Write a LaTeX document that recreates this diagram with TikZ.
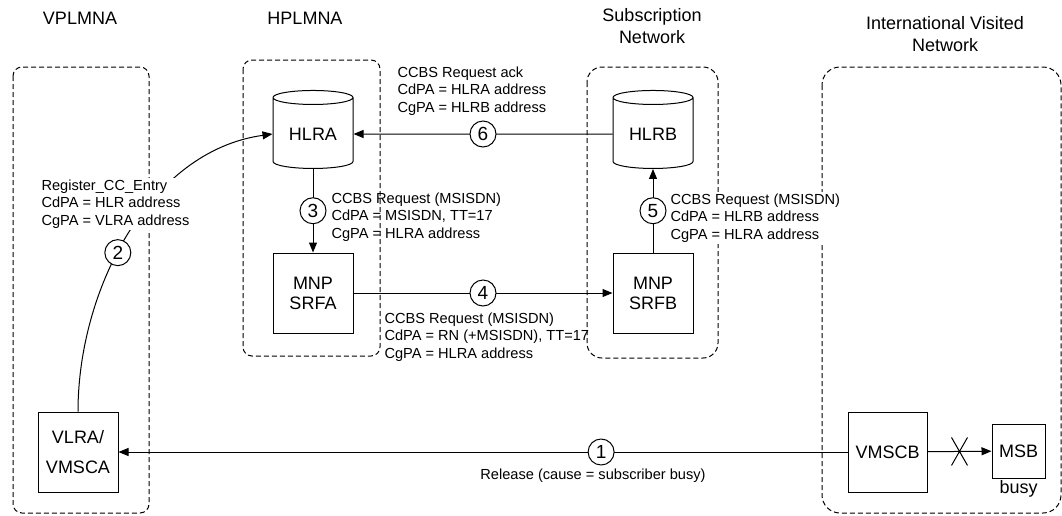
\documentclass[tikz,border=0pt]{standalone}
\usepackage{fontspec}
\setmainfont{Liberation Sans}
\usetikzlibrary{arrows.meta,positioning,shapes.geometric,shapes.misc}
\newcommand{\msgfont}{\fontsize{14.6}{17.5}\selectfont}
\newcommand{\nefont}{\fontsize{18}{20}\selectfont}

\begin{document}
\begin{tikzpicture}[x=1pt,y=-1pt,line width=1pt,>={Triangle[length=10pt,width=8pt]},
  net/.style={draw,dash pattern=on 5pt off 3pt,rounded corners=#1},
  ne/.style={draw,minimum width=80pt,minimum height=80pt,align=center,font=\nefont,inner sep=1pt},
  db/.style={draw,cylinder,shape border rotate=90,aspect=0.28,minimum width=80pt,minimum height=78pt,font=\nefont,inner sep=1pt},
  num/.style={draw,circle,fill=white,minimum size=26pt,inner sep=0pt,font=\fontsize{19}{19}\selectfont},
  msg/.style={align=left,font=\msgfont,inner sep=2pt},
  ttl/.style={align=center,font=\fontsize{18}{22}\selectfont},
  xmark/.style={draw,cross out,minimum width=15pt,minimum height=27pt,inner sep=0pt}]
  \useasboundingbox (0,0) rectangle (1062,515);
  \node[ttl] (vpl) at (80,18) {VPLMNA};
  \node[ttl] (hpl) at (305,18) {HPLMNA};
  \node[ttl] (sub) at (652,26) {Subscription\\Network};
  \node[ttl] (ivn) at (945,34) {International Visited\\Network};
  \draw[net=9pt] (13,67) rectangle (149,513);
  \draw[net=9pt] (243,60) rectangle (380,356);
  \draw[net=15pt] (587,67) rectangle (718,358);
  \draw[net=18pt] (822,67) rectangle (1061,513);

  \node[db] (hlra) at (313,134) {HLRA};
  \node[db] (hlrb) at (653,134) {HLRB};
  \node[ne] (srfa) at (313,293) {MNP\\SRFA};
  \node[ne] (srfb) at (653,293) {MNP\\SRFB};
  \node[ne] (vlra) at (78,452) {VLRA/\\[10pt]VMSCA};
  \node[ne,minimum width=79pt] (vmscb) at (887.5,452) {VMSCB};
  \node[ne,minimum width=53pt,minimum height=54pt] (msb) at (1018.5,451) {MSB};
  \node[font=\nefont,inner sep=0pt,below=1pt of msb] (busy) {busy};

  \draw[->] (hlrb) -- node[num] {6} (hlra);
  \draw[->] (hlra) -- node[num] {3} (srfa);
  \draw[->] (srfa) -- node[num] {4} (srfb);
  \draw[->] (srfb) -- node[num] {5} (hlrb);
  \draw[->] (vmscb) -- node[num,pos=0.338] {1} (vlra);
  \draw[->] (vmscb) -- node[xmark] {} (msb);
  \draw[->] (vlra.north) .. controls +(0,-122) and +(-123,17) .. node[num,pos=0.44] {2} (hlra.west);

  \node[msg,fill=white,anchor=west] (reg) at (39,204) {Register\_CC\_Entry\\CdPA = HLR address\\CgPA = VLRA address};
  \node[msg,anchor=west] (ack) at (395,91) {CCBS Request ack\\CdPA = HLRA address\\CgPA = HLRB address};
  \node[msg,anchor=west] (req3) at (329,217) {CCBS Request (MSISDN)\\CdPA = MSISDN, TT=17\\CgPA = HLRA address};
  \node[msg,fill=white,anchor=west] (req5) at (668,218) {CCBS Request (MSISDN)\\CdPA = HLRB address\\CgPA = HLRA address};
  \node[msg,anchor=west] (req4) at (382,337) {CCBS Request (MSISDN)\\CdPA = RN (+MSISDN), TT=17\\CgPA = HLRA address};
  \node[msg] (rel) at (593,476) {Release (cause = subscriber busy)};
\end{tikzpicture}
\end{document}
